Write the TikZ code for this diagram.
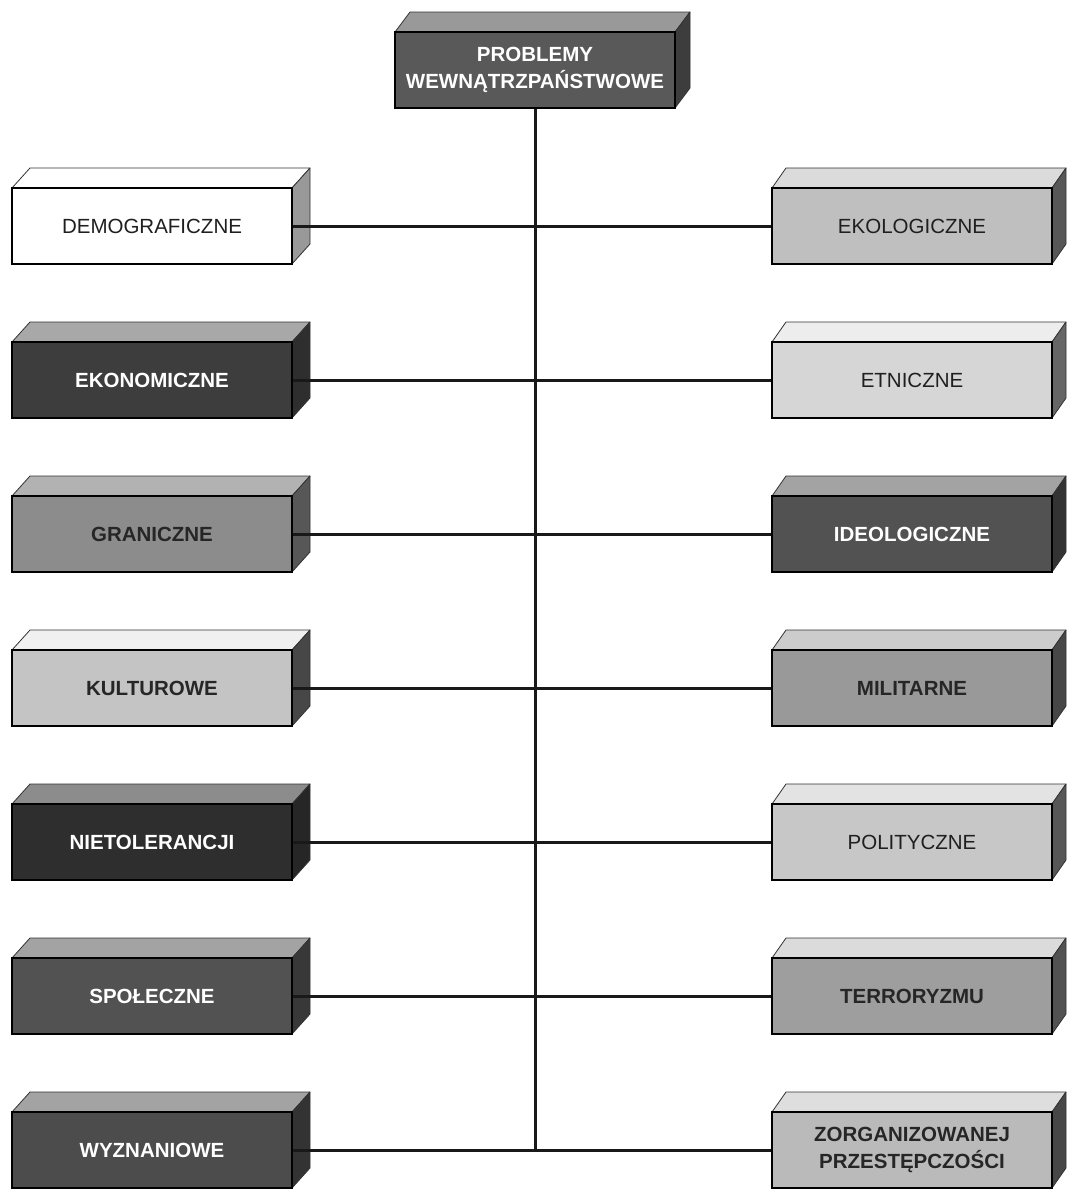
\documentclass[tikz,border=0pt]{standalone}
\usepackage{fontspec}
\setmainfont{Liberation Sans}
\newcommand\cubebox[9]{%
  % #1 name, #2 cx, #3 cy, #4 front, #5 top, #6 side, #7 text style, #8 text, #9 depth dx
  \draw[facestyle, fill=#5] (#2,#3) ++(-140,-38) -- ++(#9,-20) -- ++(280,0) -- ++(-#9,20) -- cycle;
  \draw[facestyle, fill=#6] (#2,#3) ++(140,-38) -- ++(#9,-20) -- ++(0,76) -- ++(-#9,20) -- cycle;
  \node[cubefront, fill=#4, #7] (#1) at (#2,#3) {#8};
}
\begin{document}
\begin{tikzpicture}[x=1pt,y=-1pt,
  facestyle/.style={draw=black!80, line width=0.8pt, line join=round},
  cubefront/.style={draw=black, line width=1.4pt, minimum width=280pt, minimum height=76pt,
    inner sep=0pt, align=center, font=\fontsize{20.5}{27}\selectfont},
  wtxt/.style={text=white, font=\fontsize{20.5}{27}\selectfont\bfseries},
  btxt/.style={text=black!85, font=\fontsize{20.5}{27}\selectfont\bfseries},
  ntxt/.style={text=black!88, font=\fontsize{20.5}{27}\selectfont},
  conn/.style={draw=black!90, line width=3pt}]
\useasboundingbox[fill=white] (0,0) rectangle (1066,1189);

% top box
\cubebox{top}{535}{70}{black!65}{black!40}{black!76}{wtxt}{PROBLEMY\\WEWNĄTRZPAŃSTWOWE}{15}

% left column
\cubebox{L1}{152}{226}{white}{white}{black!40}{ntxt}{DEMOGRAFICZNE}{18}
\cubebox{L2}{152}{380}{black!76}{black!34}{black!82}{wtxt}{EKONOMICZNE}{18}
\cubebox{L3}{152}{534}{black!45}{black!30}{black!66}{btxt}{GRANICZNE}{18}
\cubebox{L4}{152}{688}{black!23}{black!6}{black!72}{btxt}{KULTUROWE}{18}
\cubebox{L5}{152}{842}{black!82}{black!45}{black!85}{wtxt}{NIETOLERANCJI}{18}
\cubebox{L6}{152}{996}{black!68}{black!36}{black!78}{wtxt}{SPOŁECZNE}{18}
\cubebox{L7}{152}{1150}{black!70}{black!36}{black!80}{wtxt}{WYZNANIOWE}{18}

% right column
\cubebox{R1}{912}{226}{black!25}{black!14}{black!66}{ntxt}{EKOLOGICZNE}{14}
\cubebox{R2}{912}{380}{black!16}{black!7}{black!60}{ntxt}{ETNICZNE}{14}
\cubebox{R3}{912}{534}{black!68}{black!36}{black!80}{wtxt}{IDEOLOGICZNE}{14}
\cubebox{R4}{912}{688}{black!40}{black!20}{black!72}{btxt}{MILITARNE}{14}
\cubebox{R5}{912}{842}{black!22}{black!11}{black!66}{ntxt}{POLITYCZNE}{14}
\cubebox{R6}{912}{996}{black!38}{black!14}{black!68}{btxt}{TERRORYZMU}{14}
\cubebox{R7}{912}{1150}{black!27}{black!13}{black!72}{btxt}{ZORGANIZOWANEJ\\PRZESTĘPCZOŚCI}{14}

% junctions on the trunk
\foreach \i/\yy in {1/226,2/380,3/534,4/688,5/842,6/996,7/1150}
  \coordinate (j\i) at (535,\yy);

% connectors
\draw[conn] (top.south) -- (j7);
\foreach \i in {1,...,7}{
  \draw[conn] (L\i.east) -- (j\i);
  \draw[conn] (j\i) -- (R\i.west);
}
\end{tikzpicture}
\end{document}
